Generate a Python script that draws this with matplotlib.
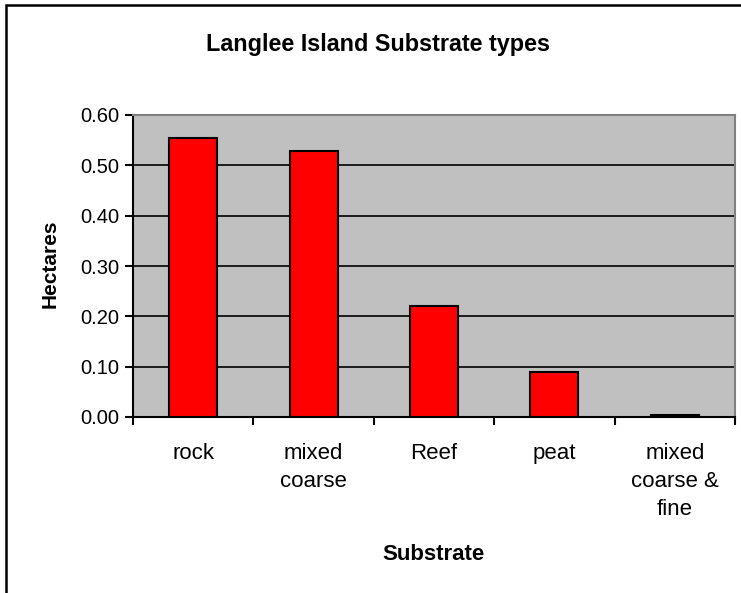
import matplotlib
matplotlib.use("Agg")
import matplotlib.pyplot as plt
from matplotlib.patches import Rectangle
import numpy as np

plt.rcParams['font.family'] = ['Liberation Sans', 'DejaVu Sans']

# data
substrates = ["rock", "mixed\ncoarse", "Reef", "peat", "mixed\ncoarse &\nfine"]
hectares = [0.555, 0.528, 0.221, 0.089, 0.003]
yticks = [0.0, 0.1, 0.2, 0.3, 0.4, 0.5, 0.6]

fig = plt.figure(figsize=(7.41, 5.93), dpi=100)
ax = fig.add_axes([133 / 741, 1 - 417 / 593, (735 - 133) / 741, (417 - 115) / 593])

# chart border (left and top visible only)
fig.patches.append(Rectangle((6 / 741, -0.1), 1.2, (593 - 5) / 593 + 0.1,
                             transform=fig.transFigure, fill=False,
                             edgecolor="black", linewidth=1.8))

ax.set_facecolor("#c0c0c0")
x = np.arange(len(substrates))
ax.bar(x, hectares, width=0.4, color="#ff0000", edgecolor="black",
       linewidth=1.5, zorder=3)

ax.set_ylim(0, 0.6)
ax.set_xlim(-0.5, len(substrates) - 0.5)
ax.set_yticks(yticks)
ax.set_yticklabels(["%.2f" % v for v in yticks], fontsize=14.5)
ax.yaxis.grid(True, color="black", linewidth=1.2, zorder=1)
ax.set_axisbelow(True)

# ticks between categories, labels under centres
ax.set_xticks(np.arange(len(substrates) + 1) - 0.5)
ax.set_xticklabels([])
ax.set_xticks(x, minor=True)
ax.set_xticklabels(substrates, minor=True, fontsize=16, linespacing=1.42)
ax.tick_params(axis="x", which="minor", length=0, pad=19)
ax.tick_params(axis="x", which="major", length=6, width=1.5, direction="out")
ax.tick_params(axis="y", length=6, width=1.5, direction="out", pad=4)
for lab in ax.get_xticklabels(minor=True):
    lab.set_verticalalignment("top")

ax.spines["left"].set_linewidth(1.5)
ax.spines["bottom"].set_linewidth(1.5)
ax.spines["top"].set_color("#808080")
ax.spines["right"].set_color("#808080")
ax.spines["top"].set_linewidth(1.5)
ax.spines["right"].set_linewidth(1.5)

fig.text(378 / 741, 1 - 45 / 593, "Langlee Island Substrate types",
         ha="center", va="center", fontsize=16.8, fontweight="bold")
fig.text(50 / 741, 1 - 264 / 593, "Hectares", rotation=90,
         ha="center", va="center", fontsize=15, fontweight="bold")
fig.text(433 / 741, 1 - 555 / 593, "Substrate",
         ha="center", va="center", fontsize=16, fontweight="bold")

fig.savefig("out.png", dpi=100)
